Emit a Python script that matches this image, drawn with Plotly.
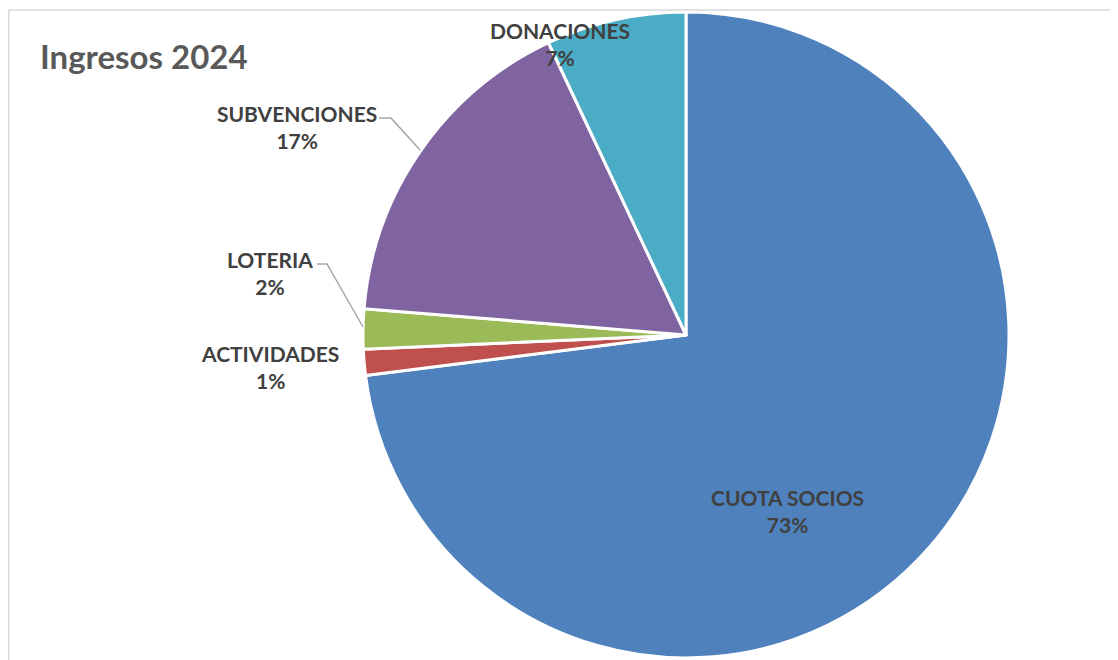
import plotly.graph_objects as go

# ---- data ----
categories = ["CUOTA SOCIOS", "ACTIVIDADES", "LOTERIA", "SUBVENCIONES", "DONACIONES"]
values = [73.0, 1.3, 2.0, 16.7, 7.0]
colors = ["#4F81BD", "#C0504D", "#9BBB59", "#8064A2", "#4BACC6"]
title_text = "Ingresos 2024"

# ---- layout helpers (pixel positions in the browser window) ----
OFF = 8  # default page body margin
W, H = 1118 - OFF, 660 - OFF
label_pos = {
    "CUOTA SOCIOS": (787, 511),
    "ACTIVIDADES": (270, 367),
    "LOTERIA": (270, 273),
    "SUBVENCIONES": (297, 127),
    "DONACIONES": (560, 44),
}
leaders = {
    "SUBVENCIONES": [(379, 118), (391, 118), (420, 150)],
    "LOTERIA": [(317, 264), (327, 264), (363, 327)],
}


def px(x):
    return (x - OFF) / W


def py(y):
    return 1 - (y - OFF) / H


cx, cy, r = 686, 335, 323

fig = go.Figure(
    go.Pie(
        labels=categories,
        values=values,
        marker=dict(colors=colors, line=dict(color="white", width=3)),
        sort=False,
        direction="clockwise",
        rotation=0,
        textinfo="none",
        hoverinfo="skip",
        showlegend=False,
        domain=dict(x=[px(cx - r), px(cx + r)], y=[py(cy + r), py(cy - r)]),
    )
)

total = sum(values)
annotations = []
for cat, v in zip(categories, values):
    x, y = label_pos[cat]
    annotations.append(
        dict(
            x=px(x), y=py(y), xref="paper", yref="paper",
            text=f"<b>{cat}<br>{round(v / total * 100)}%</b>",
            showarrow=False, xanchor="center", yanchor="middle",
            font=dict(family="Lato", size=21, color="#404040"),
            align="center",
        )
    )

shapes = []
for cat, pts in leaders.items():
    path = "M " + " L ".join(f"{px(a)},{py(b)}" for a, b in pts)
    shapes.append(dict(type="path", xref="paper", yref="paper", path=path,
                       line=dict(color="#A6A6A6", width=1.5)))
# chart area border (top and left visible)
shapes.append(dict(type="line", xref="paper", yref="paper",
                   x0=px(8.8), x1=1.01, y0=py(10), y1=py(10),
                   line=dict(color="#D9D9D9", width=1.5)))
shapes.append(dict(type="line", xref="paper", yref="paper",
                   x0=px(8.8), x1=px(8.8), y0=py(10), y1=-0.01,
                   line=dict(color="#D9D9D9", width=1.5)))

fig.update_layout(
    width=W, height=H,
    margin=dict(l=0, r=0, t=0, b=0),
    paper_bgcolor="white",
    plot_bgcolor="white",
    title=dict(text=f"<b>{title_text}</b>", x=px(40), xanchor="left",
               y=py(57), yanchor="middle", xref="paper", yref="container",
               font=dict(family="Lato", size=33, color="#595959")),
    annotations=annotations,
    shapes=shapes,
)

fig.write_html("out.html")
